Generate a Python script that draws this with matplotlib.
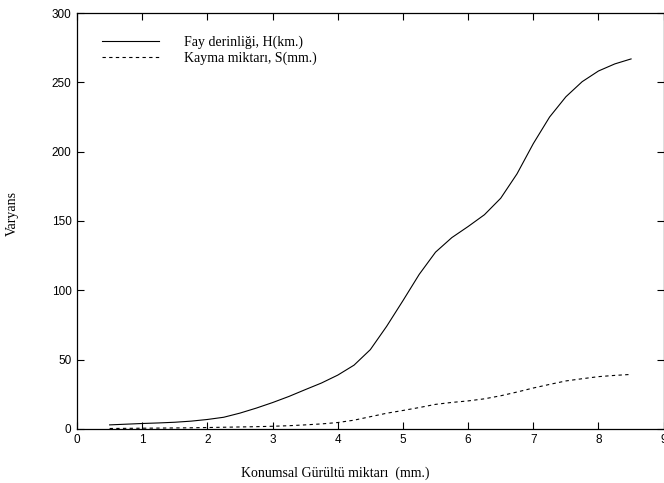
import numpy as np
import matplotlib
matplotlib.use("Agg")
from matplotlib import pyplot as plt

# Konumsal gurultu miktari (mm.)
gurultu = [0.5, 0.75, 1.0, 1.25, 1.5, 1.75, 2.0, 2.25, 2.5, 2.75, 3.0, 3.25, 3.5, 3.75,
           4.0, 4.25, 4.5, 4.75, 5.0, 5.25, 5.5, 5.75, 6.0, 6.25, 6.5, 6.75, 7.0, 7.25,
           7.5, 7.75, 8.0, 8.25, 8.5]

# Varyans degerleri
fay_derinligi = [2.9, 3.4, 3.9, 4.3, 4.8, 5.6, 6.8, 8.4, 11.4, 15, 19, 23.4, 28.3, 33.1,
                 38.8, 46, 57.2, 74, 92.5, 111.5, 127.5, 138, 146, 154.5, 166.4, 184, 205.8, 225,
                 239.6, 250.5, 258.2, 263.3, 266.9]
kayma_miktari = [0.3, 0.4, 0.5, 0.6, 0.7, 0.8, 1.0, 1.2, 1.4, 1.6, 1.9, 2.3, 2.9, 3.6,
                 4.6, 6.3, 8.8, 11.3, 13.3, 15.4, 17.7, 19.1, 20.2, 21.7, 23.9, 26.6, 29.5, 32.1,
                 34.6, 36.2, 37.7, 38.6, 39.3]

etiketler = ["Fay derinliği, H(km.)", "Kayma miktarı, S(mm.)"]

serif = ["Liberation Serif", "DejaVu Serif"]
sans = ["Liberation Sans", "DejaVu Sans"]

fig = plt.figure(figsize=(6.64, 4.83), dpi=100)
ax = fig.add_axes([0.116, 0.112, 0.8835, 0.861])

ax.plot(gurultu, fay_derinligi, color="black", lw=0.8, label=etiketler[0])
ax.plot(gurultu, kayma_miktari, color="black", lw=0.8, linestyle=(0, (3, 3)), label=etiketler[1])

ax.set_xlim(0, 9)
ax.set_ylim(0, 300)
ax.set_xticks(np.arange(0, 10, 1))
ax.set_yticks(np.arange(0, 301, 50))

ax.tick_params(direction="in", length=5, width=0.8, top=True, right=True,
               labelsize=8.5, pad=4)
for lbl in ax.get_xticklabels() + ax.get_yticklabels():
    lbl.set_family(sans)
for s in ax.spines.values():
    s.set_linewidth(0.9)

ax.set_xlabel("Konumsal Gürültü miktarı  (mm.)", family=serif, fontsize=10)
ax.set_ylabel("Varyans", family=serif, fontsize=10)
ax.xaxis.set_label_coords(0.44, -0.09)
ax.yaxis.set_label_coords(-0.1, 0.517)

leg = ax.legend(loc="upper left", bbox_to_anchor=(0.043, 0.945), frameon=False,
                handlelength=4.1, handletextpad=1.8, labelspacing=0.15,
                borderpad=0, borderaxespad=0, prop={"family": serif, "size": 10})

fig.savefig("out.png", dpi=100)
